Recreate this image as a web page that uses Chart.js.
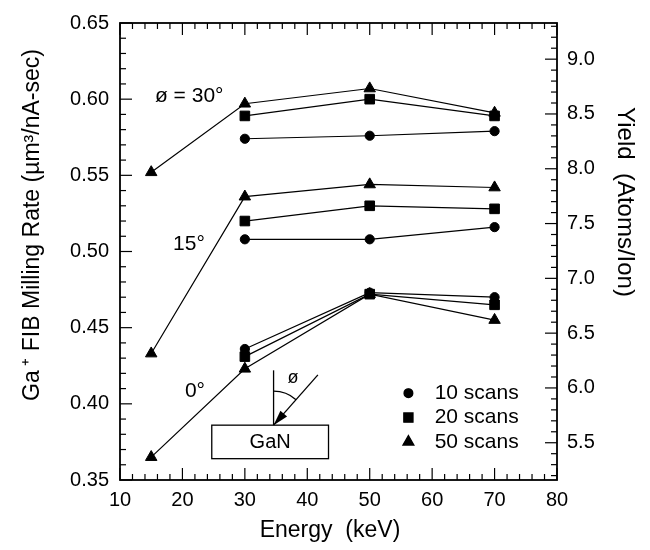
<!DOCTYPE html>
<html>
<head>
<meta charset="utf-8">
<script src="https://cdn.jsdelivr.net/npm/chart.js@4.4.0/dist/chart.umd.min.js"></script>
<style>
  html, body { margin: 0; padding: 0; background: #fff; }
  #wrap { width: 650px; height: 550px; }
</style>
</head>
<body>
<div id="wrap"><canvas id="millChart" width="650" height="550"></canvas></div>
<script>
// beam energy, keV
const energy = [30, 50, 70];
const energyLong = [15, 30, 50, 70];

// milling rate (µm³/nA-sec) per incidence angle and scan count
const deg30scan10 = [0.574, 0.576, 0.579];
const deg30scan20 = [0.589, 0.600, 0.589];
const deg30scan50 = [0.552, 0.597, 0.607, 0.591];
const deg15scan10 = [0.508, 0.508, 0.516];
const deg15scan20 = [0.520, 0.530, 0.528];
const deg15scan50 = [0.433, 0.536, 0.544, 0.542];
const deg0scan10 = [0.436, 0.473, 0.470];
const deg0scan20 = [0.431, 0.472, 0.465];
const deg0scan50 = [0.365, 0.423, 0.472, 0.455];

const energyTicks = [10, 20, 30, 40, 50, 60, 70, 80];
const rateTicks = [0.35, 0.40, 0.45, 0.50, 0.55, 0.60, 0.65];
const yieldTicks = [5.5, 6.0, 6.5, 7.0, 7.5, 8.0, 8.5, 9.0];

const legendItems = [
  ['circle', '10 scans'],
  ['rect', '20 scans'],
  ['triangle', '50 scans'],
];

const FONT = '"Liberation Sans", Arial, sans-serif';
const radii = { circle: 4.6, rect: 6.8, triangle: 6.6 };

function series(xs, ys, style) {
  return {
    data: xs.map((x, i) => ({ x: x, y: ys[i] })),
    pointStyle: style,
    pointRadius: radii[style],
    pointBorderWidth: 1,
    borderColor: '#000',
    backgroundColor: '#000',
    borderWidth: 1.2,
    showLine: true,
    tension: 0,
  };
}

function line(ctx, x1, y1, x2, y2) {
  ctx.beginPath();
  ctx.moveTo(x1, y1);
  ctx.lineTo(x2, y2);
  ctx.stroke();
}

// frame with inward ticks on all four sides
const frameTicks = {
  id: 'frameTicks',
  afterDraw(chart) {
    const { ctx, chartArea: a, scales } = chart;
    ctx.save();
    ctx.strokeStyle = '#000';
    ctx.lineWidth = 1.8;
    ctx.strokeRect(a.left, a.top, a.right - a.left, a.bottom - a.top);
    ctx.lineWidth = 1.2;
    for (let i = 0; i <= 35; i++) {
      const v = 10 + i * 2;
      const px = scales.x.getPixelForValue(v);
      const len = v % 10 === 0 ? 12 : 6;
      line(ctx, px, a.bottom, px, a.bottom - len);
      line(ctx, px, a.top, px, a.top + len);
    }
    for (let i = 0; i <= 30; i++) {
      const py = scales.y.getPixelForValue(0.35 + i * 0.01);
      line(ctx, a.left, py, a.left + (i % 5 === 0 ? 12 : 6), py);
    }
    for (let i = 52; i <= 93; i++) {
      const py = scales.y2.getPixelForValue(i / 10);
      line(ctx, a.right, py, a.right - (i % 5 === 0 ? 12 : 6), py);
    }
    ctx.restore();
  }
};

// axis titles, angle labels, sample sketch and legend
const notes = {
  id: 'notes',
  afterDraw(chart) {
    const { ctx, scales } = chart;
    const X = v => scales.x.getPixelForValue(v);
    const Y = v => scales.y.getPixelForValue(v);
    ctx.save();
    ctx.fillStyle = '#000';
    ctx.strokeStyle = '#000';

    ctx.font = '23px ' + FONT;
    ctx.textAlign = 'center';
    ctx.textBaseline = 'middle';
    ctx.fillText('Energy  (keV)', 330, 531);

    ctx.save();
    ctx.translate(33, 225);
    ctx.rotate(-Math.PI / 2);
    ctx.fillText('Ga\u2009\u207A FIB Milling Rate (\u00B5m\u00B3/nA-sec)', 0, 0);
    ctx.restore();

    ctx.save();
    ctx.translate(625, 202);
    ctx.rotate(Math.PI / 2);
    ctx.font = '24px ' + FONT;
    ctx.fillText('Yield  (Atoms/Ion)', 0, 0);
    ctx.restore();

    ctx.font = '21px ' + FONT;
    ctx.textAlign = 'left';
    ctx.fillText('\u00F8 = 30\u00B0', X(15.6), Y(0.602));
    ctx.fillText('15\u00B0', X(18.5), Y(0.505));
    ctx.fillText('0\u00B0', X(20.4), Y(0.408));

    // GaN block with incoming beam
    ctx.lineWidth = 1.3;
    const bx1 = X(24.7), bx2 = X(43.4), by1 = Y(0.386), by2 = Y(0.364);
    ctx.strokeRect(bx1, by1, bx2 - bx1, by2 - by1);
    ctx.textAlign = 'center';
    ctx.font = '20px ' + FONT;
    ctx.fillText('GaN', (bx1 + bx2) / 2, (by1 + by2) / 2 + 1);

    const tx = X(34.6), ty = by1;
    line(ctx, tx, ty, tx, Y(0.422));
    const sx = X(41.7), sy = Y(0.419);
    line(ctx, sx, sy, tx, ty);
    const ang = Math.atan2(ty - sy, tx - sx);
    ctx.beginPath();
    ctx.moveTo(tx, ty);
    ctx.lineTo(tx - 16 * Math.cos(ang - 0.28), ty - 16 * Math.sin(ang - 0.28));
    ctx.lineTo(tx - 16 * Math.cos(ang + 0.28), ty - 16 * Math.sin(ang + 0.28));
    ctx.closePath();
    ctx.fill();
    ctx.beginPath();
    ctx.arc(tx, ty, 34, -Math.PI / 2, ang - Math.PI);
    ctx.stroke();
    ctx.font = '18px ' + FONT;
    ctx.fillText('\u00F8', X(37.7), Y(0.417));

    // legend
    ctx.font = '21px ' + FONT;
    ctx.textAlign = 'left';
    const rows = [0.407, 0.391, 0.375];
    legendItems.forEach(([style, label], i) => {
      const py = Y(rows[i]);
      Chart.helpers.drawPoint(ctx, { pointStyle: style, radius: radii[style] * 0.95, borderWidth: 1, rotation: 0 }, X(56.2), py);
      ctx.fill();
      ctx.fillText(label, X(60.4), py);
    });
    ctx.restore();
  }
};

const tickFont = { family: FONT, size: 20 };

new Chart(document.getElementById('millChart'), {
  type: 'line',
  data: {
    datasets: [
      series(energy, deg30scan10, 'circle'),
      series(energy, deg30scan20, 'rect'),
      series(energyLong, deg30scan50, 'triangle'),
      series(energy, deg15scan10, 'circle'),
      series(energy, deg15scan20, 'rect'),
      series(energyLong, deg15scan50, 'triangle'),
      series(energy, deg0scan10, 'circle'),
      series(energy, deg0scan20, 'rect'),
      series(energyLong, deg0scan50, 'triangle'),
    ],
  },
  options: {
    responsive: false,
    animation: false,
    devicePixelRatio: 1,
    layout: { padding: { top: 16, left: 0, right: 0, bottom: 0 } },
    plugins: {
      legend: { display: false },
      tooltip: { enabled: false },
    },
    scales: {
      x: {
        type: 'linear',
        min: 10,
        max: 80,
        afterBuildTicks: s => { s.ticks = energyTicks.map(v => ({ value: v })); },
        afterFit: s => { s.height = 70; },
        ticks: { font: tickFont, color: '#000', padding: 8, maxRotation: 0, autoSkip: false },
        grid: { display: false, drawTicks: false },
        border: { display: false },
      },
      y: {
        position: 'left',
        min: 0.35,
        max: 0.65,
        afterBuildTicks: s => { s.ticks = rateTicks.map(v => ({ value: v })); },
        afterFit: s => { s.width = 120; },
        ticks: { font: tickFont, color: '#000', padding: 11, callback: v => v.toFixed(2) },
        grid: { display: false, drawTicks: false },
        border: { display: false },
      },
      y2: {
        position: 'right',
        min: 5.16,
        max: 9.33,
        afterBuildTicks: s => { s.ticks = yieldTicks.map(v => ({ value: v })); },
        afterFit: s => { s.width = 93; },
        ticks: { font: tickFont, color: '#000', padding: 10, callback: v => v.toFixed(1) },
        grid: { display: false, drawTicks: false },
        border: { display: false },
      },
    },
  },
  plugins: [frameTicks, notes],
});
</script>
</body>
</html>
